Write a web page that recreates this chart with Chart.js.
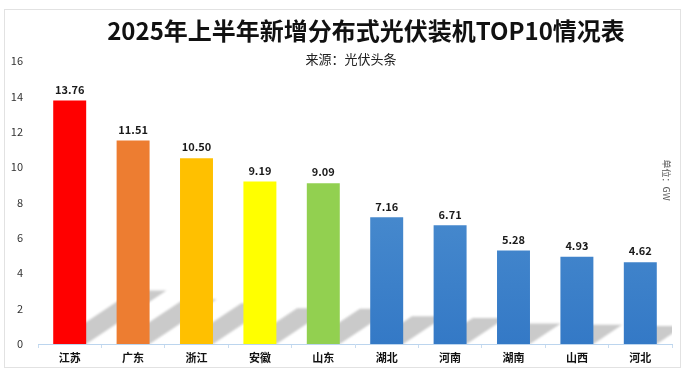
<!DOCTYPE html>
<html>
<head>
<meta charset="utf-8">
<script src="https://cdn.jsdelivr.net/npm/chart.js@4/dist/chart.umd.min.js"></script>
<style>
  html, body { margin: 0; padding: 0; background: #ffffff; }
  #wrap { width: 687px; height: 376px; position: relative; }
</style>
</head>
<body>
<div id="wrap"><canvas id="c" width="687" height="376"></canvas></div>
<script>
const titleText = '2025年上半年新增分布式光伏装机TOP10情况表';
const subtitleText = '来源：光伏头条';
const unitText = '单位：GW';
const categories = ['江苏', '广东', '浙江', '安徽', '山东', '湖北', '河南', '湖南', '山西', '河北'];
const values = [13.76, 11.51, 10.50, 9.19, 9.09, 7.16, 6.71, 5.28, 4.93, 4.62];
const barColors = ['#FF0000', '#ED7D31', '#FFC000', '#FFFF00', '#92D050', 'blue', 'blue', 'blue', 'blue', 'blue'];
const yTicks = [0, 2, 4, 6, 8, 10, 12, 14, 16];

const CJK = '"Noto Sans CJK SC", "Noto Sans", sans-serif';

function barFill(ctx) {
  const c = barColors[ctx.dataIndex];
  if (c !== 'blue') return c;
  const chart = ctx.chart;
  const area = chart.chartArea;
  if (!area) return '#4A8BD2';
  const el = chart.getDatasetMeta(0).data[ctx.dataIndex];
  const top = el && isFinite(el.y) ? el.y : area.top;
  const base = el && isFinite(el.base) ? el.base : area.bottom;
  const g = chart.ctx.createLinearGradient(0, top, 0, base);
  g.addColorStop(0, '#5B9BD5');
  g.addColorStop(1, '#3479C6');
  return g;
}

const decor = {
  id: 'decor',
  beforeDraw(chart) {
    const ctx = chart.ctx;
    ctx.save();
    ctx.fillStyle = '#ffffff';
    ctx.fillRect(0, 0, chart.width, chart.height);
    ctx.strokeStyle = '#e2e2e2';
    ctx.lineWidth = 1;
    ctx.strokeRect(4.5, 9.5, 676, 358);
    ctx.restore();
  },
  beforeDatasetsDraw(chart) {
    const ctx = chart.ctx;
    const area = chart.chartArea;
    ctx.save();
    ctx.beginPath();
    ctx.rect(area.left, area.top, area.right - area.left, area.bottom - area.top);
    ctx.clip();
    ctx.fillStyle = 'rgba(196,196,196,0.9)';
    ctx.filter = 'blur(0.8px)';
    chart.getDatasetMeta(0).data.forEach(el => {
      const half = el.width / 2;
      const left = el.x - half, right = el.x + half;
      const h = el.base - el.y;
      const dy = 0.22 * h;
      const dx = 1.5 * dy;
      ctx.beginPath();
      ctx.moveTo(left, el.base);
      ctx.lineTo(right, el.base);
      ctx.lineTo(right + dx, el.base - dy);
      ctx.lineTo(left + dx, el.base - dy);
      ctx.closePath();
      ctx.fill();
    });
    ctx.restore();
  },
  afterDatasetsDraw(chart) {
    const ctx = chart.ctx;
    ctx.save();
    ctx.font = 'bold 11px ' + CJK;
    ctx.fillStyle = '#1a1a1a';
    ctx.textAlign = 'center';
    ctx.textBaseline = 'middle';
    chart.getDatasetMeta(0).data.forEach((el, i) => {
      ctx.fillText(values[i].toFixed(2), el.x, el.y - 11);
    });
    ctx.restore();
  },
  afterDraw(chart) {
    const ctx = chart.ctx;
    ctx.save();
    ctx.fillStyle = '#111111';
    ctx.textAlign = 'center';
    ctx.textBaseline = 'middle';
    ctx.font = 'bold 24px ' + CJK;
    ctx.fillText(titleText, 366, 31);
    ctx.font = '13px ' + CJK;
    ctx.fillStyle = '#222222';
    ctx.fillText(subtitleText, 351, 59);
    ctx.translate(666, 180);
    ctx.rotate(Math.PI / 2);
    ctx.font = '9px ' + CJK;
    ctx.fillStyle = '#555555';
    ctx.fillText(unitText, 0, 0);
    ctx.restore();
  }
};

new Chart(document.getElementById('c'), {
  type: 'bar',
  data: {
    labels: categories,
    datasets: [{
      data: values,
      backgroundColor: barFill,
      borderWidth: 0,
      barPercentage: 0.52,
      categoryPercentage: 1.0
    }]
  },
  options: {
    responsive: false,
    animation: false,
    devicePixelRatio: 1,
    layout: { padding: { top: 61, right: 15, bottom: 0, left: 0 } },
    plugins: {
      legend: { display: false },
      title: { display: false },
      tooltip: { enabled: false }
    },
    scales: {
      x: {
        offset: true,
        grid: { display: true, drawOnChartArea: false, drawTicks: true, tickLength: 4, color: '#c9dcef' },
        border: { display: true, color: '#bcd5ee', width: 1 },
        ticks: { color: '#111111', font: { family: CJK, size: 11, weight: 'bold' }, padding: 3, maxRotation: 0 },
        afterFit(scale) { scale.height = 32; }
      },
      y: {
        min: 0,
        max: 16,
        afterBuildTicks(scale) { scale.ticks = yTicks.map(v => ({ value: v })); },
        grid: { display: false },
        border: { display: false },
        ticks: { color: '#333333', font: { family: CJK, size: 11 }, padding: 7 },
        afterFit(scale) { scale.width = 38; }
      }
    }
  },
  plugins: [decor]
});
</script>
</body>
</html>
